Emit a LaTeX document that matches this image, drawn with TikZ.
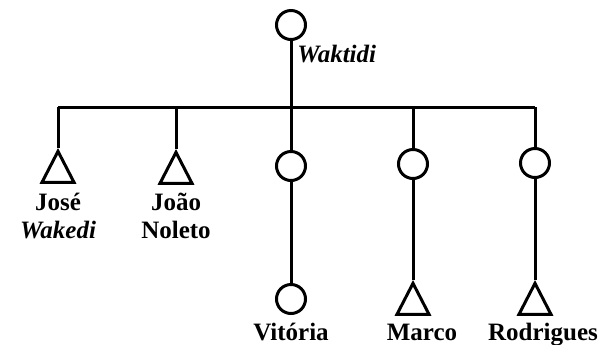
\documentclass[tikz,border=0pt]{standalone}
\usepackage{fontspec}
\setmainfont{Liberation Serif}
\usetikzlibrary{shapes.geometric}

\begin{document}
\begin{tikzpicture}[x=0.5pt,y=-0.5pt,
  female/.style={draw,circle,line width=1.5pt,minimum size=14.5pt,inner sep=0pt},
  male/.style={draw,isosceles triangle,isosceles triangle apex angle=54,
    shape border rotate=90,isosceles triangle stretches,minimum width=16pt,
    minimum height=15.5pt,inner sep=0pt,line width=1.5pt,anchor=apex},
  nametag/.style={font=\fontsize{12.5}{14}\selectfont\bfseries,align=center,inner sep=0pt},
  tie/.style={line width=1.5pt}]
\useasboundingbox (0,0) rectangle (600,344);
% Parent
\node[female] (waktidi) at (291,25) {};
\node[nametag,anchor=base west] (waktiditag) at (297,62) {\textit{Waktidi}};
% Sibling bar
\coordinate (barL) at (58,107);
\coordinate (barR) at (535,107);
\coordinate (barM) at (291,107);
\draw[tie] (barL)--(barR);
\draw[tie] (waktidi)--(barM);
% Children
\node[male] (jose) at (58,148) {};
\node[male] (joao) at (176,149) {};
\node[female] (vitoria) at (291,166) {};
\node[female] (marco) at (413,164) {};
\node[female] (rodrigues) at (535,163) {};
% Grandchildren
\node[female] (vitoriajr) at (291,299) {};
\node[male] (marcojr) at (413,280) {};
\node[male] (rodriguesjr) at (535,280) {};
% Lines
\draw[tie] (jose.apex |- barL)--(jose.apex);
\draw[tie] (joao.apex |- barL)--(joao.apex);
\draw[tie] (vitoria |- barL)--(vitoria);
\draw[tie] (marco |- barL)--(marco);
\draw[tie] (rodrigues |- barL)--(rodrigues);
\draw[tie] (vitoria)--(vitoriajr);
\draw[tie] (marco)--(marcojr.apex);
\draw[tie] (rodrigues)--(rodriguesjr.apex);
% Name labels
\node[nametag,anchor=base] (josetag) at (58,238) {José\\\textit{Wakedi}};
\node[nametag,anchor=base] (joaotag) at (176,238) {João\\Noleto};
\node[nametag,anchor=base] (vitoriatag) at (291,340) {Vitória};
\node[nametag,anchor=base] (marcotag) at (422,340) {Marco};
\node[nametag,anchor=base] (rodriguestag) at (543,340) {Rodrigues};
\end{tikzpicture}
\end{document}
